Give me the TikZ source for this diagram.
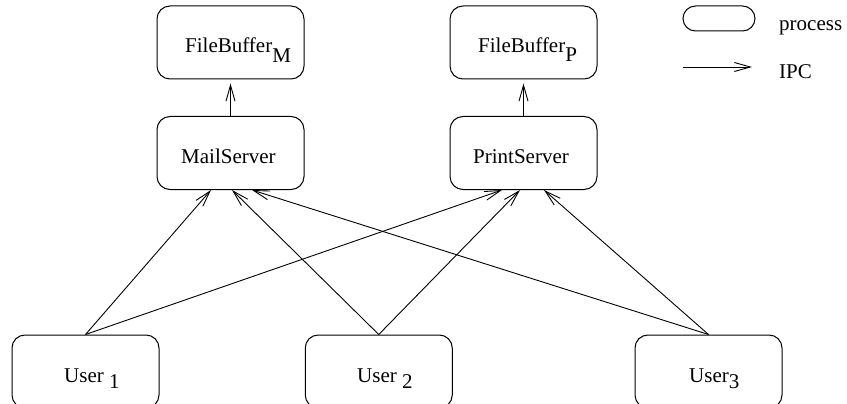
\documentclass[tikz,border=0pt]{standalone}
\usepackage{fontspec}
\setmainfont{Liberation Serif}
\usetikzlibrary{arrows.meta}
\newcommand{\lowsub}[2]{\raisebox{-#1}{#2}}
\begin{document}
\begin{tikzpicture}[x=1pt,y=-1pt,
  box/.style={draw, line width=1pt, rounded corners=13pt, minimum width=147pt, minimum height=73pt, inner sep=0pt},
  legendbox/.style={draw, line width=1pt, rounded corners=12.5pt, minimum width=72pt, minimum height=25pt, inner sep=0pt},
  lbl/.style={font=\fontsize{21}{25}\selectfont, inner sep=0pt, anchor=base west},
  ipc/.style={-{Straight Barb[length=16pt,width=9pt]}, line width=0.9pt},
]
\useasboundingbox (0,0) rectangle (847,404);
% boxes
\node[box] (fbm) at (230.5,42.5) {};
\node[box] (ms)  at (230.5,153) {};
\node[box] (fbp) at (523.5,42.5) {};
\node[box] (ps)  at (523.5,153) {};
\node[box] (u1)  at (85.5,371.5) {};
\node[box] (u2)  at (378.75,371.5) {};
\node[box] (u3)  at (708.5,371.5) {};
% labels
\node[lbl] (fbmt) at (185,53) {FileBuffer\lowsub{9.5pt}{M}};
\node[lbl] (mst)  at (181,163) {MailServer};
\node[lbl] (fbpt) at (478,53) {FileBuffer\lowsub{9pt}{P}};
\node[lbl] (pst)  at (473,163) {PrintServer};
\node[lbl] (u1t)  at (64,382) {User \lowsub{6.5pt}{1}};
\node[lbl] (u2t)  at (357,382) {User \lowsub{6.5pt}{2}};
\node[lbl] (u3t)  at (689,382) {User\lowsub{6.5pt}{3}};
% server to buffer
\draw[ipc] (ms.north) -- ([yshift=-4pt]fbm.south);
\draw[ipc] (ps.north) -- ([yshift=-4pt]fbp.south);
% users to servers
\draw[ipc] (u1.north) -- ([xshift=-19.5pt]ms.south);
\draw[ipc] (u1.north) -- ([xshift=-21.5pt]ps.south);
\draw[ipc] (u2.north) -- ([xshift=1.5pt]ms.south);
\draw[ipc] (u2.north) -- ([xshift=-3.5pt]ps.south);
\draw[ipc] (u3.north) -- ([xshift=21.5pt]ms.south);
\draw[ipc] (u3.north) -- ([xshift=20.5pt]ps.south);
% legend
\node[legendbox] (lp) at (719,18.5) {};
\node[lbl] (lpt) at (779,31) {process};
\coordinate (la) at (683,67);
\coordinate (lb) at (752,67);
\draw[ipc] (la) -- (lb);
\node[lbl] (lit) at (779,79) {IPC};
\end{tikzpicture}
\end{document}
